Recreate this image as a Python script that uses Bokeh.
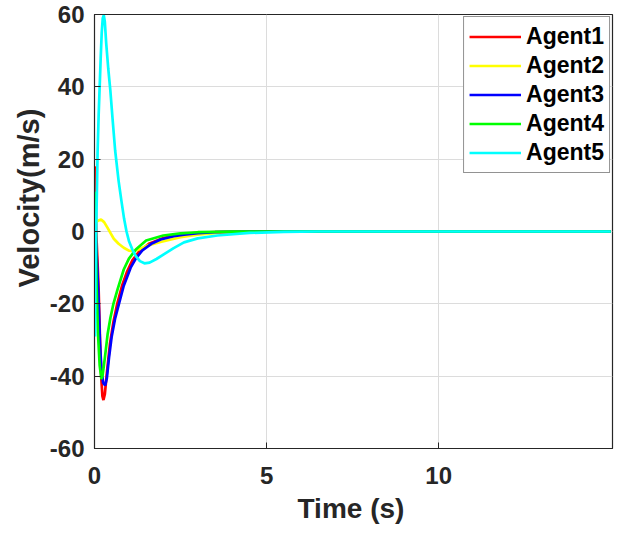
from bokeh.plotting import figure
from bokeh.models import Range1d, Legend, LegendItem, Title, FixedTicker
from bokeh.embed import file_html
from bokeh.resources import INLINE

# ---- data ----
t1 = [0.015, 0.03, 0.05, 0.09, 0.12, 0.16, 0.2, 0.23, 0.26, 0.3, 0.36, 0.45, 0.55, 0.66, 0.8, 0.95, 1.1, 1.3, 1.6, 2.0, 2.5, 3.0, 3.5, 4.5, 6, 15]
v1 = [18, 11, 0, -9, -16, -30, -41, -45.5, -46.6, -45, -39, -31, -25, -20, -15, -11, -8, -5.5, -3.3, -1.8, -0.8, -0.35, -0.15, -0.03, 0, 0]

t2 = [0.015, 0.04, 0.1, 0.19, 0.28, 0.38, 0.47, 0.56, 0.7, 0.85, 1.0, 1.15, 1.3, 1.53, 1.92, 2.5, 3.0, 3.5, 4.0, 5.0, 6, 15]
v2 = [1.5, 2.4, 3.0, 3.3, 2.6, 1.0, -0.5, -2.0, -3.4, -4.5, -5.3, -5.4, -4.9, -3.9, -2.9, -1.6, -0.9, -0.45, -0.2, -0.05, 0, 0]

t3 = [0.015, 0.04, 0.08, 0.12, 0.16, 0.2, 0.25, 0.31, 0.36, 0.42, 0.5, 0.6, 0.71, 0.85, 1.05, 1.2, 1.39, 1.65, 1.92, 2.3, 2.6, 3.0, 3.5, 4.5, 6, 15]
v3 = [6, -2, -10, -19, -31, -38, -41.8, -42.6, -40.5, -35, -29, -24, -20, -15, -10, -7.5, -5.2, -3.4, -2.2, -1.3, -0.85, -0.45, -0.2, -0.04, 0, 0]

t4 = [0.015, 0.03, 0.06, 0.1, 0.15, 0.2, 0.24, 0.3, 0.38, 0.46, 0.55, 0.67, 0.85, 1.0, 1.2, 1.5, 2.0, 2.5, 3.0, 4.0, 6, 15]
v4 = [11, 3, -15, -28, -37, -40.8, -39.5, -35, -28.5, -24, -20, -16, -10.5, -7.5, -5, -2.5, -1.1, -0.5, -0.2, -0.05, 0, 0]

t5 = [0.015, 0.03, 0.06, 0.09, 0.12, 0.15, 0.18, 0.21, 0.24, 0.27, 0.3, 0.34, 0.4, 0.46, 0.53, 0.6, 0.7, 0.78, 0.86, 0.93, 1.0, 1.1, 1.2, 1.32, 1.45, 1.6, 1.8, 2.0, 2.3, 2.6, 3.0, 3.57, 4.5, 5.5, 6.5, 15]
v5 = [-29, -10, 6, 22, 32, 40, 48, 55, 59, 59.8, 58, 52, 45, 39, 30.5, 22.4, 14, 8.6, 3.5, 0, -2.6, -5, -6.8, -8.2, -8.8, -8.6, -7.6, -6.4, -4.6, -3.0, -1.9, -1.1, -0.4, -0.1, 0, 0]

names = ["Agent1", "Agent2", "Agent3", "Agent4", "Agent5"]
colors = ["#ff0000", "#ffff00", "#0000ff", "#00ff00", "#00ffff"]
series = [(t1, v1), (t2, v2), (t3, v3), (t4, v4), (t5, v5)]

x_ticks = [0, 5, 10]
y_ticks = [-60, -40, -20, 0, 20, 40, 60]

FONT = "Liberation Sans"
TXT = "#262626"

p = figure(width=620, height=534, output_backend="svg", toolbar_location=None,
           x_range=Range1d(0, 15.05), y_range=Range1d(-60, 60),
           min_border_left=94, min_border_right=8, min_border_top=14, min_border_bottom=86)

p.background_fill_color = "white"
p.border_fill_color = "white"
p.outline_line_color = TXT
p.outline_line_width = 1.2
p.outline_line_alpha = 1

renderers = []
for (t, v), c in zip(series, colors):
    r = p.line(t, v, line_color=c, line_width=2.7)
    renderers.append(r)

legend = Legend(items=[LegendItem(label=n, renderers=[r]) for n, r in zip(names, renderers)],
                location="top_right")
legend.label_text_font = FONT
legend.label_text_font_style = "bold"
legend.label_text_font_size = "23px"
legend.label_text_color = "black"
legend.glyph_width = 52
legend.glyph_height = 29
legend.label_height = 29
legend.label_standoff = 5
legend.spacing = 0
legend.padding = 5
legend.margin = 2
legend.border_line_color = TXT
legend.border_line_width = 1
legend.background_fill_color = "white"
legend.background_fill_alpha = 1
p.add_layout(legend)

for ax in (p.xaxis[0], p.yaxis[0]):
    ax.major_label_text_font = FONT
    ax.major_label_text_font_style = "bold"
    ax.major_label_text_font_size = "24px"
    ax.major_label_text_color = TXT
    ax.axis_line_color = TXT
    ax.major_tick_line_color = TXT
    ax.major_tick_in = 6
    ax.major_tick_out = 0
    ax.minor_tick_line_color = None

p.xaxis.ticker = FixedTicker(ticks=x_ticks)
p.yaxis.ticker = FixedTicker(ticks=y_ticks)
p.yaxis.major_label_overrides = {t: str(t) for t in y_ticks}
p.xaxis.major_label_standoff = 18
p.yaxis.major_label_standoff = 10

xtitle = Title(text="Time (s)", align="left", offset=203,
               text_font=FONT, text_font_style="bold", text_font_size="28px",
               text_color=TXT, standoff=8)
p.add_layout(xtitle, "below")

ytitle = Title(text="Velocity(m/s)", align="left", offset=161,
               text_font=FONT, text_font_style="bold", text_font_size="29px",
               text_color=TXT, standoff=4)
p.add_layout(ytitle, "left")

p.xgrid.grid_line_color = "#dcdcdc"
p.ygrid.grid_line_color = "#dcdcdc"
p.xgrid.ticker = FixedTicker(ticks=x_ticks)
p.ygrid.ticker = FixedTicker(ticks=y_ticks)

open("out.html", "w").write(file_html(p, INLINE))
